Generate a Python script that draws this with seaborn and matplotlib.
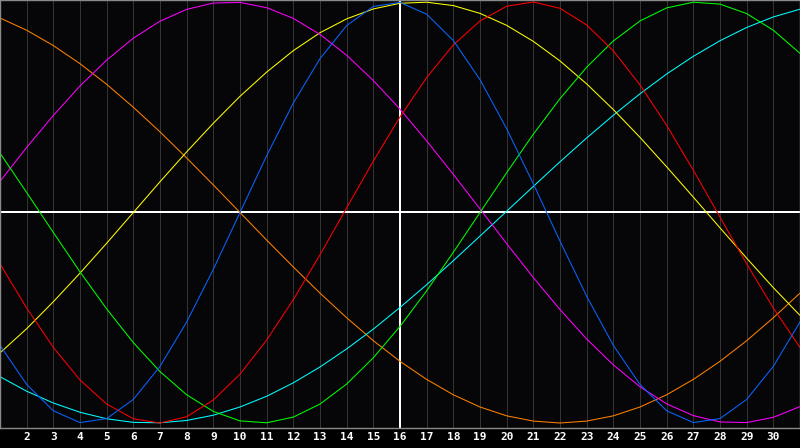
import matplotlib
matplotlib.use("Agg")
import matplotlib.pyplot as plt
import seaborn as sns
import pandas as pd

days = list(range(1, 32))
tick_days = list(range(2, 31))

blue = [-0.631, -0.817, -0.942, -0.998, -0.979, -0.888, -0.731, -0.520, -0.270, 0.000,
        0.270, 0.520, 0.731, 0.888, 0.979, 0.998, 0.942, 0.817, 0.631, 0.398,
        0.136, -0.136, -0.398, -0.631, -0.817, -0.942, -0.998, -0.979, -0.888, -0.731, -0.520]
red = [-0.244, -0.454, -0.641, -0.796, -0.910, -0.980, -1.000, -0.970, -0.891, -0.768,
       -0.606, -0.414, -0.201, 0.022, 0.244, 0.454, 0.641, 0.796, 0.910, 0.980,
       1.000, 0.970, 0.891, 0.768, 0.606, 0.414, 0.201, -0.022, -0.244, -0.454, -0.641]
green = [0.282, 0.095, -0.095, -0.282, -0.458, -0.618, -0.756, -0.866, -0.945, -0.990,
         -0.999, -0.972, -0.910, -0.815, -0.690, -0.541, -0.372, -0.189, 0.000, 0.189,
         0.372, 0.541, 0.690, 0.815, 0.910, 0.972, 0.999, 0.990, 0.945, 0.866, 0.756]
magenta = [0.148, 0.309, 0.461, 0.601, 0.724, 0.828, 0.909, 0.965, 0.995, 0.998,
           0.973, 0.922, 0.846, 0.747, 0.627, 0.491, 0.340, 0.181, 0.017, -0.148,
           -0.309, -0.461, -0.601, -0.724, -0.828, -0.909, -0.965, -0.995, -0.998, -0.973, -0.922]
yellow = [-0.667, -0.552, -0.424, -0.288, -0.146, 0.000, 0.146, 0.288, 0.424, 0.552,
          0.667, 0.769, 0.854, 0.920, 0.967, 0.994, 0.999, 0.983, 0.946, 0.889,
          0.813, 0.720, 0.611, 0.489, 0.357, 0.217, 0.073, -0.073, -0.217, -0.357, -0.489]
orange = [0.924, 0.866, 0.793, 0.707, 0.609, 0.500, 0.383, 0.259, 0.131, 0.000,
          -0.131, -0.259, -0.383, -0.500, -0.609, -0.707, -0.793, -0.866, -0.924, -0.966,
          -0.991, -1.000, -0.991, -0.966, -0.924, -0.866, -0.793, -0.707, -0.609, -0.500, -0.383]
cyan = [-0.780, -0.849, -0.905, -0.949, -0.980, -0.997, -0.999, -0.988, -0.963, -0.924,
        -0.873, -0.809, -0.734, -0.648, -0.554, -0.451, -0.343, -0.229, -0.112, 0.006,
        0.124, 0.241, 0.354, 0.462, 0.564, 0.658, 0.742, 0.816, 0.879, 0.929, 0.966]

series = {"orange": orange, "cyan": cyan, "yellow": yellow, "magenta": magenta,
          "green": green, "red": red, "blue": blue}
colors = {"orange": "#ff8000", "cyan": "#00ffff", "yellow": "#ffff00", "magenta": "#ff00ff",
          "green": "#00ff00", "red": "#ff0000", "blue": "#0a64ff"}

rows = []
for name, vals in series.items():
    for d, v in zip(days, vals):
        rows.append({"day": d, "value": v, "cycle": name})
df = pd.DataFrame(rows)

sns.set_theme(style="dark")
plt.rcParams["font.family"] = ["DejaVu Sans Mono", "DejaVu Sans"]

fig = plt.figure(figsize=(8.0, 4.48), dpi=100, facecolor="#000000")
ax = fig.add_axes([0.0, 1 - 428 / 448, 1.0, 428 / 448])
ax.set_facecolor("#060609")

# grid lines per day
for d in days:
    ax.axvline(d, color="#333333", lw=0.6, zorder=0.5, antialiased=False)
ax.axhline(0, color="#ffffff", lw=1.1, zorder=1, antialiased=False)
ax.axvline(16, color="#ffffff", lw=1.1, zorder=1, antialiased=False)

sns.lineplot(data=df, x="day", y="value", hue="cycle", palette=colors,
             hue_order=list(series.keys()), legend=False, ax=ax,
             linewidth=0.75, antialiased=True, zorder=2)

ax.set_xlim(1, 31)
ax.set_ylim(-1.0238, 1.0095)
ax.set_xticks(tick_days)
ax.set_xticklabels([str(d) for d in tick_days], color="white", fontsize=8,
                   fontweight="bold")
ax.set_yticks([])
ax.tick_params(axis="x", length=0, pad=3)
ax.set_xlabel("")
ax.set_ylabel("")
ax.grid(False)
for s in ax.spines.values():
    s.set_color("#8a8a8a")
    s.set_linewidth(1.0)

fig.savefig("out.png", dpi=100, facecolor="#000000")
